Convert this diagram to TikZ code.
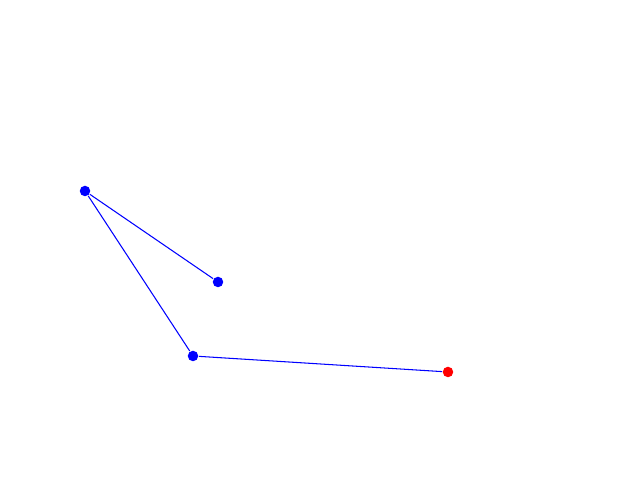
\documentclass[tikz,border=0pt]{standalone}
\usepackage{tikz}
\usepackage[dvipsnames]{xcolor}

\begin{document}
\begin{tikzpicture}
  [every node/.style={circle,fill=blue,inner sep=0pt,minimum size=0.105cm}]
  \useasboundingbox (0,0) rectangle (6.4,4.8);
  \node (n1) at (0.85,2.89) {};
  \node (n2) at (2.18,1.98) {};
  \node (n3) at (1.93,1.24) {};
  \node (n4) at (4.48,1.08) [fill=red] {};

  \foreach \from/\to in {n1/n2,n1/n3,n3/n4}
    \draw[blue,line width=0.3pt] (\from) -- (\to);
\end{tikzpicture}
\end{document}
